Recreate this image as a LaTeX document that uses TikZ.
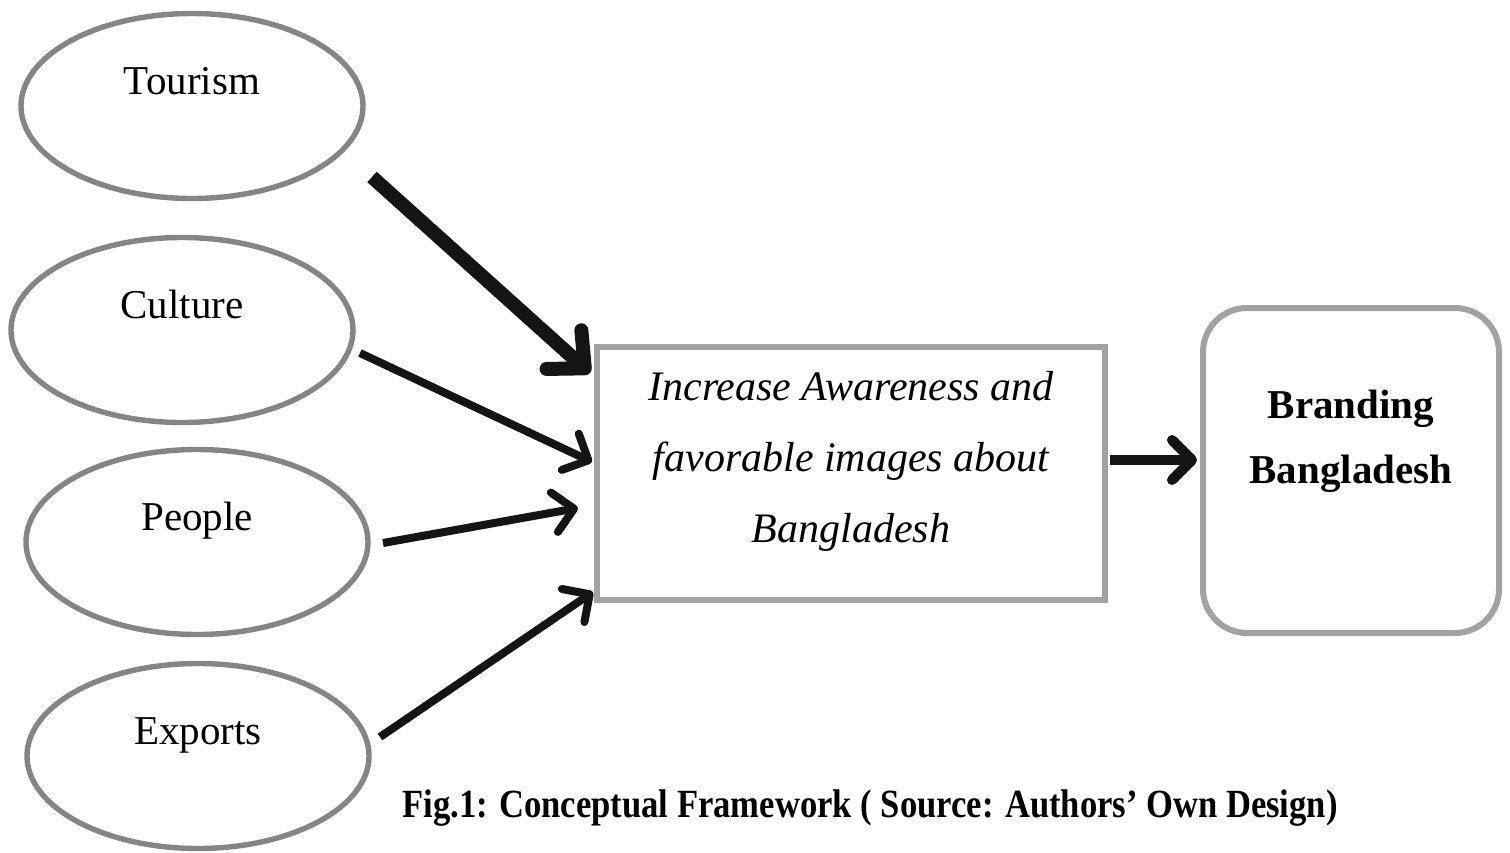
\documentclass[tikz,border=0pt]{standalone}
\usepackage{fontspec}
\setmainfont{Liberation Serif}
\usepackage{graphicx}
\usetikzlibrary{arrows.meta,shapes.geometric,calc}
\definecolor{ovalgray}{HTML}{858585}
\definecolor{boxgray}{HTML}{A2A2A2}
\definecolor{ink}{HTML}{141414}
\begin{document}
\begin{tikzpicture}[x=0.5pt,y=-0.5pt,
  oval/.style={ellipse, draw=ovalgray, line width=2.7pt, minimum width=171pt, minimum height=92.5pt,
    inner sep=0pt, outer sep=0pt, font=\fontsize{20.5}{24}\selectfont, text height=14pt, text depth=26pt},
  mainbox/.style={rectangle, draw=boxgray, line width=3pt, minimum width=254pt, minimum height=126.5pt,
    inner sep=0pt, outer sep=0pt, font=\itshape\fontsize{21}{35.5}\selectfont, text height=12pt, text depth=85.5pt},
  brandbox/.style={rectangle, rounded corners=22pt, draw=boxgray, line width=3pt, minimum width=148pt, minimum height=162.5pt,
    inner sep=0pt, outer sep=0pt, font=\bfseries\fontsize{20.5}{32.5}\selectfont, text height=10pt, text depth=62.5pt},
  bigarrow/.style={draw=ink, line width=7pt, -{Straight Barb[length=14pt,width=26pt,round]}},
  arrow/.style={draw=ink, line width=4pt, -{Straight Barb[length=10pt,width=20pt,round]}},
  midarrow/.style={draw=ink, line width=5pt, -{Straight Barb[length=10pt,width=20pt,round]}},
  caption/.style={font=\bfseries\fontsize{20}{24}\selectfont, anchor=base, inner sep=0pt}
]
\useasboundingbox (0,0) rectangle (1510,852);
\fill[white] (0,0) rectangle (1510,852);

\node[oval] (tourism) at (192,106) {Tourism};
\node[oval] (culture) at (182,330) {Culture};
\node[oval] (people)  at (197,542) {People};
\node[oval] (exports) at (198,756) {Exports};

\node[mainbox] (aware) at (851,473.5) {\begin{tabular}[t]{@{}c@{}}Increase Awareness and\\favorable images about\\Bangladesh\end{tabular}};

\node[brandbox] (brand) at (1351,470.5) {\begin{tabular}[t]{@{}c@{}}Branding\\Bangladesh\end{tabular}};

\coordinate (t0) at (372,177);
\coordinate (c0) at (360,353);
\coordinate (p0) at (383,543);
\coordinate (e0) at (380,737);

\draw[bigarrow] (t0) -- ($(aware.west)+(-7,-100.5)$);
\draw[arrow] (c0) -- ($(aware.west)+(-5,-11.5)$);
\draw[arrow] (p0) -- ($(aware.west)+(-19,34.5)$);
\draw[arrow] (e0) -- ($(aware.west)+(-4,118.5)$);
\draw[midarrow] ($(aware.east)+(5,-13.5)$) -- ($(brand.west)+(-6,-10.5)$);

\node[caption] (cap) at (870,817) {\scalebox{0.865}[1]{Fig.1: Conceptual Framework ( Source: Authors’ Own Design)}};
\end{tikzpicture}
\end{document}
